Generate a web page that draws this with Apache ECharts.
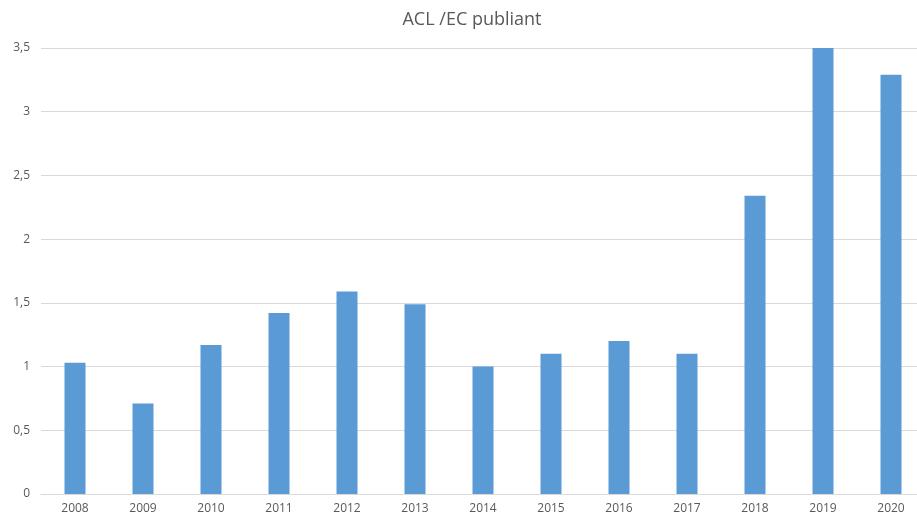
<!DOCTYPE html>
<html><head><meta charset="utf-8">
<script src="https://cdn.jsdelivr.net/npm/echarts@6/dist/echarts.min.js"></script>
<style>html,body{margin:0;padding:0;background:#fff;overflow:hidden;width:917px;height:521px}#c{width:926px;height:521px}</style>
</head><body><div id="c"></div>
<script>
const categories = ['2008','2009','2010','2011','2012','2013','2014','2015','2016','2017','2018','2019','2020'];
const values = [1.03, 0.71, 1.17, 1.42, 1.59, 1.49, 1.0, 1.1, 1.2, 1.1, 2.34, 3.5, 3.29];
const titleText = 'ACL /EC publiant';

const chart = echarts.init(document.getElementById('c'), null, {renderer:'canvas'});
chart.setOption({
  animation: false,
  backgroundColor: '#fff',
  title: {
    text: titleText, left: 467, top: 6, textAlign: 'center',
    textStyle: {fontFamily: 'Open Sans', fontWeight: 'normal', fontSize: 18, color: '#595959'}
  },
  grid: {left: 41, top: 48, right: 1, bottom: 27, containLabel: false},
  xAxis: {
    type: 'category', data: categories,
    axisLine: {lineStyle: {color: '#d9d9d9'}},
    axisTick: {show: false},
    axisLabel: {color: '#595959', fontFamily: 'Open Sans', fontSize: 12, margin: 9}
  },
  yAxis: {
    type: 'value', min: 0, max: 3.5, interval: 0.5,
    axisLine: {show: false}, axisTick: {show: false},
    splitLine: {lineStyle: {color: '#d9d9d9'}},
    axisLabel: {color: '#595959', fontFamily: 'Open Sans', fontSize: 12, margin: 11,
      formatter: v => String(v).replace('.', ',')}
  },
  series: [{
    type: 'bar', data: values, barWidth: 21,
    itemStyle: {color: '#5b9bd5'}
  }]
});
</script></body></html>
